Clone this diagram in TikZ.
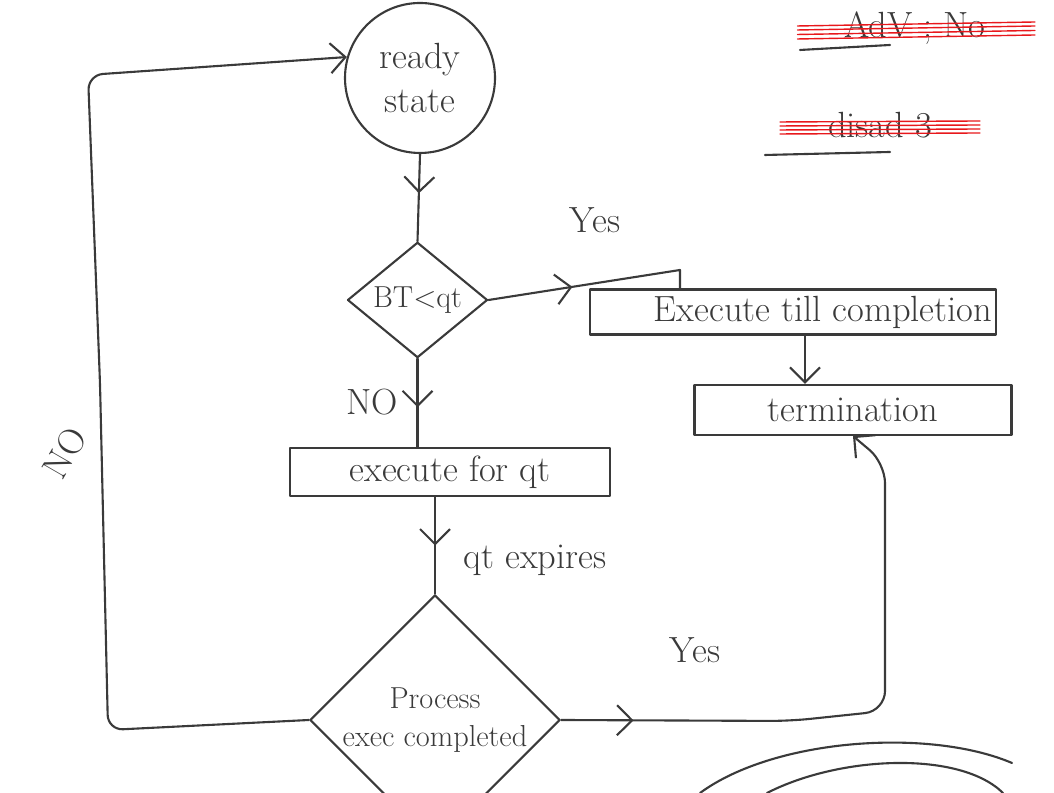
\documentclass[tikz,border=0pt]{standalone}
\usepackage{tikz}
\usetikzlibrary{arrows.meta}
\usetikzlibrary{shapes}
\usetikzlibrary{calc}
\usetikzlibrary{decorations.markings}

\definecolor{pen}{HTML}{3A3A3A}
\definecolor{redpen}{HTML}{E8181C}

\tikzset{
  midarrow/.style={postaction={decorate}, decoration={markings, mark=at position #1 with {\arrow{Straight Barb[length=3mm,width=6mm]}}}},
  boxnode/.style={draw, rectangle, font=\huge, inner sep=2pt},
  decision/.style={draw, diamond, inner sep=0pt, align=center},
  lbl/.style={font=\huge, text=pen}
}

\begin{document}
\begin{tikzpicture}[color=pen, every path/.style={very thick, line cap=round, line join=round}]
\useasboundingbox (0,0) rectangle (21.08,15.86);

% nodes
\node[draw, circle, minimum size=3cm, align=center, font=\huge] (ready) at (8.4,14.3) {ready\\state};
\node[decision, minimum width=2.8cm, minimum height=2.2cm, font=\LARGE] (btq) at (8.35,9.86) {BT$<$qt};
\node[boxnode, minimum width=6.4cm, minimum height=0.96cm] (exq) at (9.0,6.42) {execute for qt};
\node[boxnode, minimum width=7cm, minimum height=0.9cm] (etc) at (15.86,9.62) {\hspace*{1.2cm}Execute till completion};
\node[boxnode, minimum width=6.34cm, minimum height=1cm] (term) at (17.06,7.66) {termination};
\node[decision, minimum width=5cm, minimum height=3cm, font=\LARGE] (pec) at (8.7,1.46) {Process\\exec completed};

% labels
\node[lbl] (yes1) at (11.9,11.46) {Yes};
\node[lbl] (no1) at (7.44,7.82) {NO};
\node[lbl] (qte) at (10.7,4.66) {qt expires};
\node[lbl] (yes2) at (13.9,2.86) {Yes};
\node[lbl, rotate=60] (no2) at (1.3,6.8) {NO};

% connectors
\coordinate (yb) at (13.6,10.46);
\draw[midarrow=0.45] (ready.south) -- (btq.north);
\draw[midarrow=0.4] (btq.east) -- (yb) -- (yb |- etc.north);
\draw[-{Straight Barb[length=3mm,width=6mm]}] ([xshift=2.4mm]etc.south) -- ([xshift=2.4mm]etc.south |- term.north);
\draw[midarrow=0.55] (btq.south) -- (btq.south |- exq.north);
\draw[midarrow=0.5] (exq.south -| pec.north) -- (pec.north);
\coordinate (ya) at (15.8,1.44);
\coordinate (yc) at (17.7,1.64);
\coordinate (yd) at (17.7,6.6);
\draw[midarrow=0.12, -{Straight Barb[length=3mm,width=6mm]}, rounded corners=4mm] (pec.east) -- (ya) -- (yc) -- (yd) -- (term.south);
\coordinate (na) at (2.16,1.26);
\coordinate (nb) at (1.76,14.36);
\draw[-{Straight Barb[length=3mm,width=6mm]}, rounded corners=3mm] (pec.west) -- (na) -- (2.0,8.2) -- (nb) -- (ready.164);

% struck-out notes
\node[lbl] (adv) at (18.3,15.3) {AdV ; No};
\draw (16.0,14.86) -- (17.8,14.96);
\foreach \dy in {-0.14,-0.05,0.04,0.12}
  \draw[redpen, thick] (15.95,15.22+\dy) -- (20.7,15.3+\dy);
\node[lbl] (dis) at (17.6,13.36) {disad 3};
\draw (15.3,12.76) -- (17.8,12.82);
\foreach \dy in {-0.12,-0.04,0.04,0.12}
  \draw[redpen, thick] (15.6,13.3+\dy) -- (19.6,13.32+\dy);

% arcs at the bottom
\draw (14.0,0) .. controls (15.5,1.1) and (18.6,1.3) .. (20.24,0.6);
\draw (15.34,0) .. controls (16.8,0.75) and (19.2,0.85) .. (20.06,0);
\end{tikzpicture}
\end{document}
